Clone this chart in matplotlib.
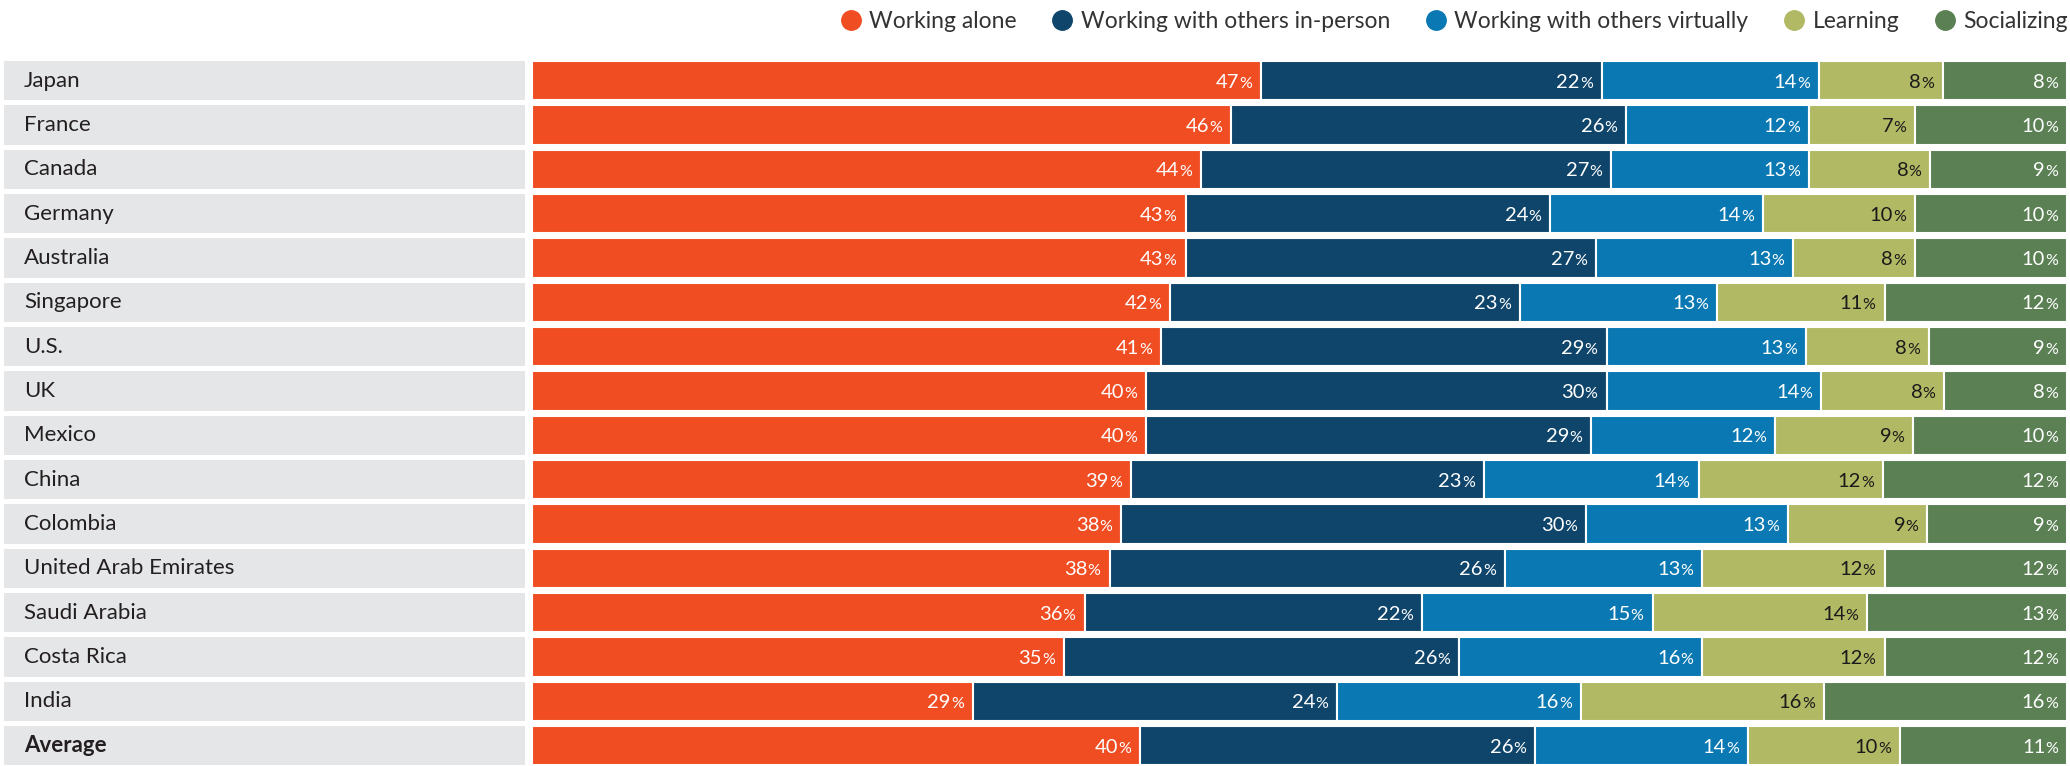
import matplotlib.pyplot as plt
from matplotlib.lines import Line2D
import numpy as np

plt.rcParams['font.family'] = ['Lato', 'DejaVu Sans']

countries = ['Japan', 'France', 'Canada', 'Germany', 'Australia', 'Singapore', 'U.S.',
             'UK', 'Mexico', 'China', 'Colombia', 'United Arab Emirates', 'Saudi Arabia',
             'Costa Rica', 'India', 'Average']
alone = [47, 46, 44, 43, 43, 42, 41, 40, 40, 39, 38, 38, 36, 35, 29, 40]
in_person = [22, 26, 27, 24, 27, 23, 29, 30, 29, 23, 30, 26, 22, 26, 24, 26]
virtual = [14, 12, 13, 14, 13, 13, 13, 14, 12, 14, 13, 13, 15, 16, 16, 14]
learning = [8, 7, 8, 10, 8, 11, 8, 8, 9, 12, 9, 12, 14, 12, 16, 10]
social = [8, 10, 9, 10, 10, 12, 9, 8, 10, 12, 9, 12, 13, 12, 16, 11]

series = ['Working alone', 'Working with others in-person', 'Working with others virtually',
          'Learning', 'Socializing']
colors = ['#F04D23', '#0F456B', '#0A78B2', '#B1B964', '#5A8054']
txt_colors = ['white', 'white', 'white', '#1a1a1a', 'white']

W, H = 2070, 766
fig = plt.figure(figsize=(W / 100, H / 100), dpi=100)

top_px = 58.5
pitch = 44.33
n = len(countries)
ax_bottom = 1 - (top_px + n * pitch) / H
ax_h = n * pitch / H
bar_h = 39.3 / pitch

# grey label panel
axl = fig.add_axes([4 / W, ax_bottom, 521 / W, ax_h])
y = np.arange(n)
axl.barh(y, [1] * n, height=bar_h, color='#E5E6E8', left=0)
axl.set_xlim(0, 1)
axl.set_ylim(n - 0.5, -0.5)
axl.axis('off')
for i, c in enumerate(countries):
    axl.text(20 / 521, i, c, va='center', ha='left', fontsize=16, color='#231F20',
             fontweight='bold' if c == 'Average' else 'normal')

# stacked bars
ax = fig.add_axes([532 / W, ax_bottom, (2067 - 532) / W, ax_h])
data = np.array([alone, in_person, virtual, learning, social], dtype=float)
tot = data.sum(axis=0)
frac = data / tot
left = np.zeros(n)
for k in range(5):
    ax.barh(y, frac[k], left=left, height=bar_h, color=colors[k],
            edgecolor='white', linewidth=1.5)
    left = left + frac[k]
ax.set_xlim(0, 1)
ax.set_ylim(n - 0.5, -0.5)
ax.axis('off')

# measure width of small % sign
tmp = fig.text(0, 0, '%', fontsize=11.5)
fig.canvas.draw()
pct_w = tmp.get_window_extent().width
tmp.remove()

left = np.zeros(n)
for k in range(5):
    for i in range(n):
        end = left[i] + frac[k][i]
        ax.annotate('%', (end, i), xytext=(-9, -7), textcoords='offset pixels',
                    ha='right', va='baseline', fontsize=11.5, color=txt_colors[k])
        ax.annotate('%d' % data[k][i], (end, i), xytext=(-9 - pct_w, -7),
                    textcoords='offset pixels', ha='right', va='baseline',
                    fontsize=14.5, color=txt_colors[k])
    left = left + frac[k]

handles = [Line2D([], [], marker='o', linestyle='', markersize=14, color=c) for c in colors]
fig.legend(handles, series, loc='center right', bbox_to_anchor=(2068 / W, 1 - 22 / H),
           ncol=5, frameon=False, fontsize=16.5, handletextpad=0.3, columnspacing=1.5,
           borderaxespad=0, borderpad=0, handlelength=1.0, labelcolor='#333333')

fig.savefig('out.png', dpi=100)
